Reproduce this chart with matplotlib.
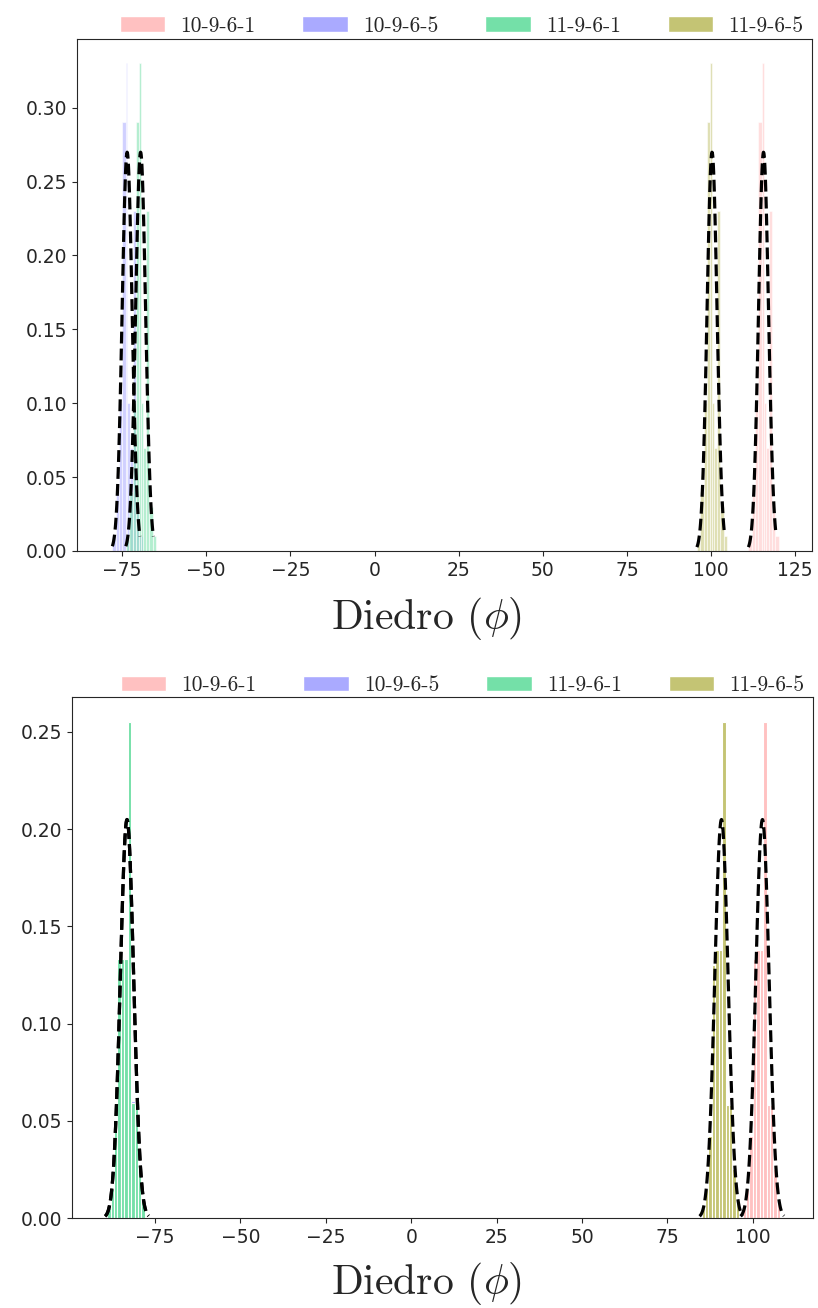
import numpy as np
import matplotlib
matplotlib.use('Agg')
import matplotlib.pyplot as plt
import seaborn as sns
from matplotlib.patches import Patch

labels = ['10-9-6-1', '10-9-6-5', '11-9-6-1', '11-9-6-5']
colors = ['#ffc1c1', '#aaaaff', '#74e0a8', '#c4c474']

# top panel: histogram bin edges / densities, one list per pair
top_edges = [
    [111.1, 112.1, 113.1, 114.1, 115.1, 115.6, 116.3, 117.1, 118.1, 119.1, 120.1],
    [-77.9, -76.9, -75.9, -74.9, -73.9, -73.4, -72.7, -71.9, -70.9, -69.9, -68.9],
    [-73.9, -72.9, -71.9, -70.9, -69.9, -69.4, -68.7, -67.9, -66.9, -65.9, -64.9],
    [95.8, 96.8, 97.8, 98.8, 99.8, 100.3, 101.0, 101.8, 102.8, 103.8, 104.8],
]
top_heights = [
    [0.01, 0.04, 0.10, 0.29, 0.33, 0.10, 0.07, 0.23, 0.03, 0.01],
    [0.01, 0.04, 0.10, 0.29, 0.33, 0.10, 0.07, 0.23, 0.03, 0.01],
    [0.01, 0.04, 0.10, 0.29, 0.33, 0.10, 0.07, 0.23, 0.03, 0.01],
    [0.01, 0.04, 0.10, 0.29, 0.33, 0.10, 0.07, 0.23, 0.03, 0.01],
]
# normal fit (mean, std) and the range it is drawn over
top_mu = [115.6, -73.5, -69.5, 100.3]
top_sigma = [1.478, 1.478, 1.478, 1.478]
top_range = [(111.1, 119.3), (-77.9, -69.7), (-73.9, -65.7), (95.8, 104.0)]

# bottom panel
bot_edges = [
    [97, 98, 99, 100, 101, 102, 103, 104, 105, 106, 107, 108],
    [-89, -88, -87, -86, -85, -84, -83, -82, -81, -80, -79, -78],
    [-89, -88, -87, -86, -85, -84, -83, -82, -81, -80, -79, -78],
    [85, 86, 87, 88, 89, 90, 91, 92, 93, 94, 95, 96],
]
bot_heights = [
    [0.005, 0.015, 0.042, 0.133, 0.138, 0.138, 0.255, 0.058, 0.058, 0.025, 0.01],
    [0.005, 0.015, 0.044, 0.133, 0.133, 0.133, 0.255, 0.06, 0.06, 0.025, 0.01],
    [0.005, 0.015, 0.044, 0.133, 0.133, 0.133, 0.255, 0.059, 0.059, 0.025, 0.01],
    [0.005, 0.015, 0.042, 0.13, 0.138, 0.138, 0.255, 0.058, 0.058, 0.025, 0.01],
]
bot_mu = [102.8, -83.2, -83.2, 90.8]
bot_sigma = [1.946, 1.946, 1.946, 1.946]
bot_range = [(96.4, 109.1), (-89.6, -76.9), (-89.6, -76.9), (84.4, 97.1)]

sns.set_style('ticks')
plt.rcParams['mathtext.fontset'] = 'cm'
plt.rcParams['font.family'] = ['DejaVu Sans']


def norm_pdf(x, mu, s):
    return np.exp(-(x - mu) ** 2 / (2 * s ** 2)) / (s * np.sqrt(2 * np.pi))


def plot_panel(ax, edges, heights, mus, sigmas, ranges, alpha, leg_y):
    for i in range(len(labels)):
        e = np.array(edges[i], dtype=float)
        ax.bar(e[:-1], heights[i], width=np.diff(e), align='edge',
               color=colors[i], alpha=alpha, edgecolor='white', linewidth=0.8)
    for i in range(len(labels)):
        x = np.linspace(ranges[i][0], ranges[i][1], 100)
        ax.plot(x, norm_pdf(x, mus[i], sigmas[i]), color='black', ls='--', lw=2.3)
    handles = [Patch(facecolor=c, edgecolor='white') for c in colors]
    ax.legend(handles, labels, loc='lower right', bbox_to_anchor=(1.0, leg_y), ncol=4,
              frameon=False, prop={'family': 'cmr10', 'size': 15.5},
              handlelength=2.1, handletextpad=0.7, columnspacing=2.2,
              borderaxespad=0.0)
    ax.set_xlabel(r'Diedro ($\phi$)', family='cmr10', fontsize=30)
    ax.tick_params(labelsize=13.5)


fig = plt.figure(figsize=(8.18, 13.08), dpi=100)
ax1 = fig.add_axes([77 / 818, 1 - 551 / 1308, 735 / 818, 512 / 1308])
ax2 = fig.add_axes([72 / 818, 1 - 1218 / 1308, 741 / 818, 521 / 1308])

plot_panel(ax1, top_edges, top_heights, top_mu, top_sigma, top_range, 0.55, 0.99)
ax1.set_xlim(-88.4, 130.0)
ax1.set_ylim(0, 0.3465)
ax1.set_xticks(np.arange(-75, 126, 25))
ax1.xaxis.set_label_coords(0.476, -0.086)

plot_panel(ax2, bot_edges, bot_heights, bot_mu, bot_sigma, bot_range, 1.0, 0.988)
ax2.set_xlim(-99.3, 117.6)
ax2.set_ylim(0, 0.268)
ax2.set_xticks(np.arange(-75, 101, 25))
ax2.xaxis.set_label_coords(0.479, -0.081)

fig.savefig('out.png', dpi=100)
